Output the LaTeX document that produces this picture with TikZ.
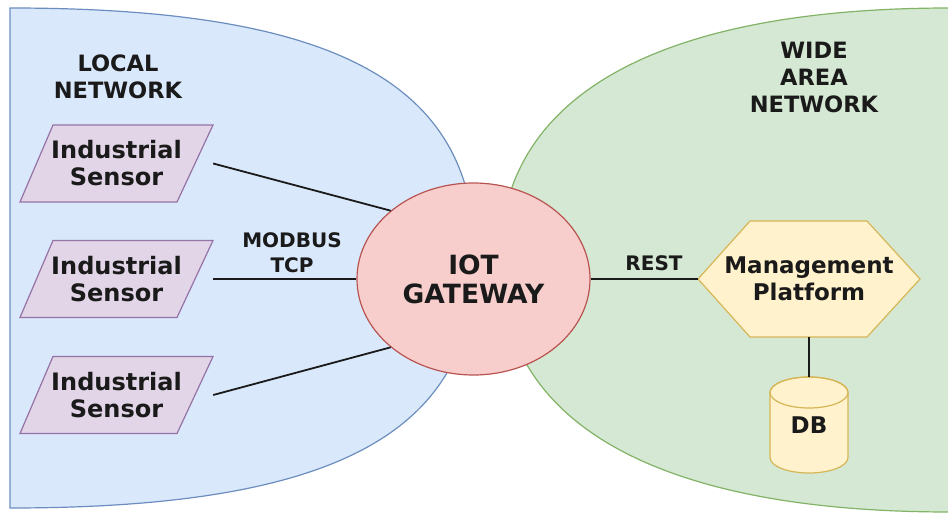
\documentclass[tikz,border=0pt]{standalone}
\usepackage{fontspec}
\setmainfont{DejaVu Sans}
\usetikzlibrary{shapes.geometric}
\definecolor{bluefill}{HTML}{DAE8FC}
\definecolor{bluestroke}{HTML}{6C8EBF}
\definecolor{greenfill}{HTML}{D5E8D4}
\definecolor{greenstroke}{HTML}{82B366}
\definecolor{redfill}{HTML}{F8CECC}
\definecolor{redstroke}{HTML}{B85450}
\definecolor{purplefill}{HTML}{E1D5E7}
\definecolor{purplestroke}{HTML}{9673A6}
\definecolor{yellowfill}{HTML}{FFF2CC}
\definecolor{yellowstroke}{HTML}{D6B656}
\definecolor{txt}{HTML}{1A1A1A}
\begin{document}
\begin{tikzpicture}[x=1pt,y=-1pt,
  localnet/.style={fill=bluefill,draw=bluestroke,line width=1.2pt},
  widenet/.style={fill=greenfill,draw=greenstroke,line width=1.2pt},
  sensorshape/.style={fill=purplefill,draw=purplestroke,line width=1.2pt},
  yellowshape/.style={fill=yellowfill,draw=yellowstroke,line width=1.2pt},
  boxtext/.style={draw=none,inner sep=0pt,align=center,text=txt,
    font=\fontsize{23}{27}\selectfont\bfseries},
  sensorbox/.style={boxtext,minimum width=193pt,minimum height=77pt,
    font=\fontsize{24}{27}\selectfont\bfseries},
  regionlabel/.style={inner sep=0pt,align=center,text=txt,
    font=\fontsize{22.5}{26.8}\selectfont\bfseries},
  edgelabel/.style={inner sep=0pt,align=center,text=txt,
    font=\fontsize{20}{25}\selectfont\bfseries},
  gateway/.style={ellipse,fill=redfill,draw=redstroke,line width=1.2pt,
    minimum width=233pt,minimum height=192pt,inner sep=0pt,align=center,
    text=txt,font=\fontsize{26.5}{29}\selectfont\bfseries},
  link/.style={draw=txt,line width=1.8pt}
]
\useasboundingbox (0,0) rectangle (948,513);
\fill[white] (0,0) rectangle (948,513);

% network regions
\draw[localnet] (10,8) .. controls (335.5,8) and (475,83) .. (475,258)
  .. controls (475,433) and (335.5,508) .. (10,508) -- cycle;
\draw[widenet] (960,8) -- (950,8) .. controls (657.5,8) and (500,96) .. (500,260)
  .. controls (500,424) and (657.5,512) .. (950,512) -- (960,512);

% sensor parallelograms
\draw[sensorshape] (53,125) -- (213,125) -- (177,202) -- (20,202) -- cycle;
\draw[sensorshape] (53,240.5) -- (213,240.5) -- (177,317.5) -- (20,317.5) -- cycle;
\draw[sensorshape] (53,356.5) -- (213,356.5) -- (177,433.5) -- (20,433.5) -- cycle;

% management platform hexagon
\draw[yellowshape] (698,279) -- (750,221) -- (867,221) -- (920,279) -- (867,337) -- (750,337) -- cycle;

% database cylinder
\filldraw[yellowshape] (770,392.5) -- (770,457.5)
  arc[start angle=180,end angle=360,x radius=39pt,y radius=15.5pt]
  -- (848,392.5)
  arc[start angle=0,end angle=180,x radius=39pt,y radius=15.5pt] -- cycle;
\draw[yellowshape,fill=none] (809,392.5) ellipse [x radius=39pt,y radius=15.5pt];

% nodes
\node[sensorbox] (s1) at (116.5,163.5) {Industrial\\Sensor};
\node[sensorbox] (s2) at (116.5,279) {Industrial\\Sensor};
\node[sensorbox] (s3) at (116.5,395) {Industrial\\Sensor};
\node[gateway] (gw) at (473.5,279) {IOT\\GATEWAY};
\node[boxtext,minimum width=222pt,minimum height=116pt] (mp) at (809,279) {Management\\Platform};
\node[boxtext,minimum width=78pt,minimum height=96pt] (db) at (809,425) {DB};

% labels
\node[regionlabel] (lln) at (118,76.5) {LOCAL\\NETWORK};
\node[regionlabel] (lwan) at (814,77.5) {WIDE\\AREA\\NETWORK};
\node[edgelabel] (lmod) at (292,253) {MODBUS\\TCP};
\node[edgelabel] (lrest) at (654,263.5) {REST};

% connectors
\draw[link] (s1.east) -- (gw.north west);
\draw[link] (s2.east) -- (gw.west);
\draw[link] (s3.east) -- (gw.south west);
\draw[link] (gw.east) -- (mp.west);
\draw[link] (mp.south) -- (db.north);
\end{tikzpicture}
\end{document}
